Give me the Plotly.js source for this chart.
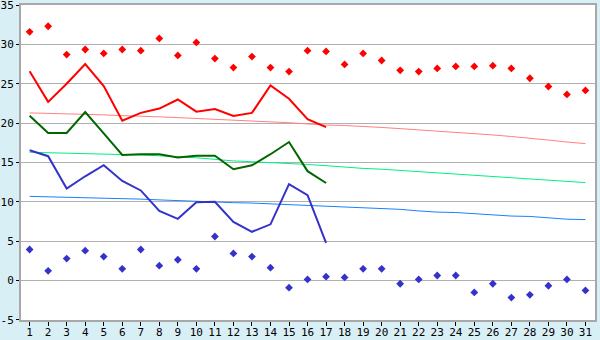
<!DOCTYPE html>
<html><head><meta charset="utf-8">
<script src="https://cdn.plot.ly/plotly-3.0.1.min.js"></script>
<style>html,body{margin:0;padding:0;background:#d9eff6;}</style>
</head><body>
<div id="chart" style="width:600px;height:340px;"></div>
<script>
const days = Array.from({length: 31}, (_, i) => i + 1);
const recordMax = [31.6,32.3,28.7,29.35,28.85,29.35,29.2,30.75,28.6,30.25,28.2,27.05,28.45,27.05,26.55,29.2,29.1,27.45,28.85,27.95,26.7,26.55,26.95,27.2,27.2,27.3,26.95,25.7,24.65,23.65,24.15];
const dailyMax = [26.6,22.7,25.0,27.5,24.7,20.3,21.3,21.85,23.0,21.45,21.8,20.9,21.3,24.8,23.1,20.5,19.5];
const normalMax = [21.3,21.25,21.2,21.15,21.05,20.95,20.9,20.8,20.7,20.6,20.5,20.35,20.25,20.15,20.05,19.9,19.75,19.7,19.6,19.45,19.3,19.15,19.0,18.85,18.7,18.5,18.3,18.1,17.85,17.6,17.4];
const dailyMean = [20.95,18.75,18.75,21.4,18.7,15.95,16.05,16.05,15.65,15.85,15.85,14.15,14.65,16.05,17.6,13.9,12.4];
const normalMean = [16.3,16.25,16.2,16.15,16.1,16.0,15.95,15.85,15.75,15.6,15.4,15.2,15.1,15.0,14.9,14.75,14.6,14.4,14.25,14.15,14.0,13.85,13.7,13.55,13.35,13.25,13.1,12.95,12.75,12.6,12.45];
const dailyMin = [16.55,15.8,11.7,13.25,14.65,12.65,11.45,8.85,7.85,9.95,10.0,7.45,6.2,7.15,12.25,10.85,4.8];
const normalMin = [10.7,10.65,10.6,10.55,10.5,10.45,10.35,10.25,10.15,10.05,10.0,9.9,9.85,9.75,9.7,9.6,9.5,9.35,9.25,9.15,9.05,8.85,8.7,8.65,8.5,8.35,8.2,8.15,7.95,7.8,7.75];
const recordMin = [3.95,1.25,2.8,3.8,3.05,1.5,3.95,1.9,2.65,1.5,5.6,3.45,3.05,1.65,-0.9,0.15,0.5,0.4,1.5,1.5,-0.4,0.15,0.65,0.65,-1.5,-0.4,-2.15,-1.8,-0.65,0.15,-1.25];
const yTicks = [-5,0,5,10,15,20,25,30,35];

const d17 = days.slice(0, 17);
const traces = [
  {x: days, y: normalMax, mode: 'lines', line: {color: '#ff8080', width: 1}},
  {x: days, y: normalMean, mode: 'lines', line: {color: '#00f080', width: 1}},
  {x: days, y: normalMin, mode: 'lines', line: {color: '#1a80ff', width: 1}},
  {x: d17, y: dailyMax, mode: 'lines', line: {color: '#ff0000', width: 2}},
  {x: d17, y: dailyMean, mode: 'lines', line: {color: '#006600', width: 2}},
  {x: d17, y: dailyMin, mode: 'lines', line: {color: '#3333cc', width: 2}},
  {x: days, y: recordMax, mode: 'markers', marker: {symbol: 'diamond', size: 6, color: '#ff0000'}},
  {x: days, y: recordMin, mode: 'markers', marker: {symbol: 'diamond', size: 6, color: '#3333cc'}}
];

const layout = {
  width: 600, height: 340,
  margin: {l: 21, r: 5, t: 5, b: 20, pad: 0},
  paper_bgcolor: '#d9eff6',
  plot_bgcolor: '#ffffff',
  showlegend: false,
  font: {family: 'DejaVu Sans Mono, monospace', size: 11, color: '#000000'},
  xaxis: {
    range: [0.535, 31.515], tickmode: 'array', tickvals: days, ticktext: days.map(String),
    showgrid: false, zeroline: false, showline: true, linecolor: '#a8a8a8', linewidth: 2, mirror: true,
    ticks: 'outside', ticklen: 4, tickcolor: '#000000', tickwidth: 1,
    ticklabelstandoff: -3, ticklabeloverflow: 'allow',
    tickfont: {family: 'DejaVu Sans Mono, monospace', size: 11}
  },
  yaxis: {
    range: [-5.001, 35.001], tickmode: 'array', tickvals: yTicks, ticktext: yTicks.map(v => v < 0 ? '-' + Math.abs(v) : String(v)),
    showgrid: true, gridcolor: '#b0b0b0', gridwidth: 1, zeroline: false,
    showline: true, linecolor: '#a8a8a8', linewidth: 2, mirror: true,
    ticks: 'outside', ticklen: 3, tickcolor: '#000000', tickwidth: 1,
    ticklabeloverflow: 'allow',
    tickfont: {family: 'DejaVu Sans Mono, monospace', size: 11}
  }
};
Plotly.newPlot('chart', traces, layout, {displayModeBar: false, staticPlot: true});
</script>
</body></html>
